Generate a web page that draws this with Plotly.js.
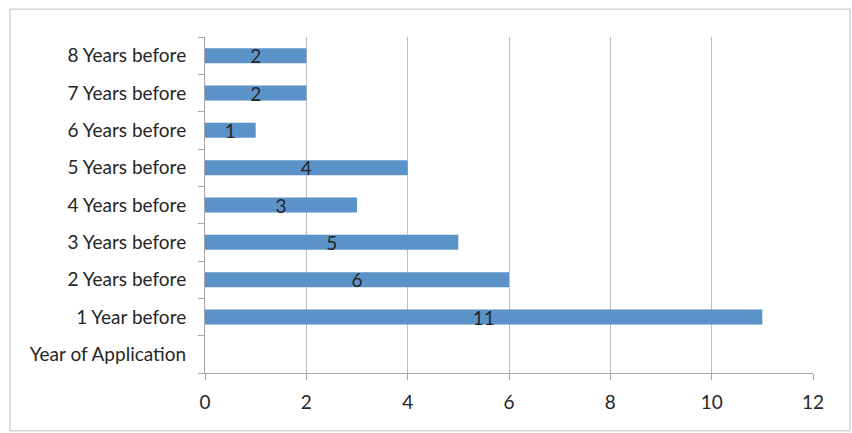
<!DOCTYPE html>
<html><head><meta charset="utf-8">
<script src="https://cdn.plot.ly/plotly-3.0.1.min.js"></script>
<style>html,body{margin:0;padding:0;background:#fff}#chart{width:852px;height:433px}</style>
</head><body><div id="chart"></div>
<script>
const categories = ['Year of Application','1 Year before','2 Years before','3 Years before','4 Years before','5 Years before','6 Years before','7 Years before','8 Years before'];
const values = [0, 11, 6, 5, 3, 4, 1, 2, 2];
const xTicks = [0, 2, 4, 6, 8, 10, 12];

const fontFam = 'Lato, "Open Sans", sans-serif';
const trace = {
  type: 'bar', orientation: 'h',
  x: values, y: categories,
  marker: {color: '#5b93c8', line: {width: 0}},
  width: 0.4,
  text: values.map(v => v === 0 ? '' : String(v)),
  textposition: 'inside', insidetextanchor: 'middle', textangle: 0,
  constraintext: 'none',
  textfont: {family: fontFam, size: 19, color: '#262626'},
  hoverinfo: 'none', cliponaxis: false
};
const layout = {
  width: 852, height: 433,
  margin: {l: 205, r: 39, t: 37, b: 60},
  paper_bgcolor: '#fff', plot_bgcolor: '#fff',
  showlegend: false,
  font: {family: fontFam, size: 19, color: '#262626'},
  xaxis: {
    range: [0, 12], tickvals: xTicks, ticktext: xTicks.map(String),
    showgrid: true, gridcolor: '#bdbdbd', gridwidth: 1,
    zeroline: false, showline: true, linecolor: '#a6a6a6', linewidth: 1,
    ticks: 'outside', ticklen: 6, tickcolor: '#a6a6a6',
    ticklabelstandoff: 6,
    tickfont: {family: fontFam, size: 19, color: '#262626'}, fixedrange: true
  },
  yaxis: {
    type: 'category', categoryorder: 'array', categoryarray: categories,
    showgrid: false, zeroline: false, showline: true, linecolor: '#a6a6a6', linewidth: 1,
    ticks: 'outside', ticklen: 6, tickcolor: '#a6a6a6', tickson: 'boundaries',
    ticklabelstandoff: 14,
    tickfont: {family: fontFam, size: 19, color: '#262626'}, fixedrange: true
  },
  shapes: [{
    type: 'rect', xref: 'paper', yref: 'paper',
    x0: -0.3207, x1: 1.0609, y0: -0.172, y1: 1.083,
    line: {color: '#bfbfbf', width: 1}, fillcolor: 'rgba(0,0,0,0)', layer: 'below'
  }]
};
Plotly.newPlot('chart', [trace], layout, {displayModeBar: false, staticPlot: true});
</script></body></html>
